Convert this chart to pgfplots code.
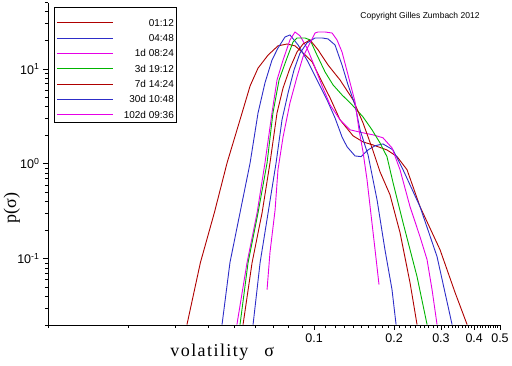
\documentclass[border=0pt]{standalone}
\usepackage{fontspec}
\setmainfont{Liberation Sans}
\newfontfamily\seriffont{Liberation Serif}
\newfontfamily\labfont[LetterSpace=8]{Liberation Serif}
\usepackage{pgfplots}
\pgfplotsset{compat=1.18}
\definecolor{cred}{RGB}{175,0,0}
\definecolor{cblue}{RGB}{45,45,200}
\definecolor{cmag}{RGB}{230,0,230}
\definecolor{cgreen}{RGB}{0,180,0}
\begin{document}
\begin{tikzpicture}
\useasboundingbox (-48pt,-41pt) rectangle (464pt,325pt);
\begin{axis}[
  at={(0pt,0pt)}, anchor=south west,
  scale only axis, width=452pt, height=322.4pt,
  xmode=log, ymode=log,
  xmin=0.01, xmax=0.5, ymin=0.02, ymax=50,
  axis lines*=left, axis line style={-, line width=0.8pt},
  xtick={0.1,0.2,0.3,0.4,0.5},
  xticklabels={0.1,0.2,0.3,0.4,0.5},
  minor xtick={0.01,0.02,0.03,0.04,0.05,0.06,0.07,0.08,0.09,
    0.11,0.12,0.13,0.14,0.15,0.16,0.17,0.18,0.19,
    0.21,0.22,0.23,0.24,0.25,0.26,0.27,0.28,0.29,
    0.31,0.32,0.33,0.34,0.35,0.36,0.37,0.38,0.39,
    0.41,0.42,0.43,0.44,0.45,0.46,0.47,0.48,0.49},
  ytick={0.1,1,10},
  yticklabels={10\textsuperscript{-1},10\textsuperscript{0},10\textsuperscript{1}},
  minor ytick={0.02,0.03,0.04,0.05,0.06,0.07,0.08,0.09,
    0.2,0.3,0.4,0.5,0.6,0.7,0.8,0.9,2,3,4,5,6,7,8,9,20,30,40,50},
  tick align=outside, major tick length=5pt, minor tick length=3pt,
  tick style={black, line width=0.6pt},
  ticklabel style={font=\fontsize{12.5}{13}\selectfont},
  xlabel={\labfont volatility\hspace{16pt}σ},
  xlabel style={at={(axis description cs:0.263,-0.083)}, anchor=west, font=\fontsize{18}{20}\selectfont},
  ylabel={\seriffont p(σ)},
  ylabel style={at={(axis description cs:-0.080,0.362)}, anchor=center, font=\fontsize{18}{20}\selectfont},
  legend style={at={(axis description cs:0.0133,0.985)}, anchor=north west,
    draw=black, line width=0.8pt, fill=white,
    font=\fontsize{10}{12}\selectfont,
    inner xsep=2.5pt, inner ysep=2.5pt, row sep=-2.67pt, column sep=10pt,
    nodes={inner sep=0pt, text height=16pt, text depth=2pt}},
  legend cell align=right,
  legend image code/.code={\draw[#1, line width=0.9pt] (0pt,-3.5pt) -- (56pt,-3.5pt);},
  every axis plot/.append style={line width=0.9pt},
]
\addplot[cred] coordinates {(0.0333,0.0202) (0.0374,0.0908) (0.0422,0.305) (0.0471,1.02) (0.0527,2.91) (0.0575,6.62) (0.0616,10.2) (0.0672,14.0) (0.0732,17.5) (0.0792,18.3) (0.0848,17.5) (0.0901,15.1) (0.0983,11.9) (0.1053,8.04) (0.1149,4.95) (0.1252,2.91) (0.1402,1.97) (0.1528,1.70) (0.1666,1.58) (0.1880,1.40) (0.2051,1.19) (0.2237,0.865) (0.2503,0.353) (0.2977,0.124) (0.3390,0.0439) (0.3761,0.0202)};
\addlegendentry{01:12}
\addplot[cblue] coordinates {(0.0451,0.0202) (0.0483,0.0908) (0.0527,0.305) (0.0575,1.02) (0.0616,3.44) (0.0654,7.12) (0.0695,12.4) (0.0732,16.6) (0.0778,21.7) (0.0812,22.8) (0.0871,17.9) (0.0949,11.9) (0.1035,7.30) (0.1119,4.72) (0.1199,3.05) (0.1274,1.92) (0.1331,1.51) (0.1426,1.21) (0.1502,1.19) (0.1596,1.40) (0.1696,1.55) (0.1816,1.62) (0.1982,1.40) (0.2161,0.865) (0.2503,0.353) (0.2900,0.105) (0.3303,0.0202)};
\addlegendentry{04:48}
\addplot[cmag] coordinates {(0.0513,0.0202) (0.0560,0.0908) (0.0611,0.305) (0.0654,1.02) (0.0695,3.44) (0.0726,7.66) (0.0765,12.4) (0.0812,20.2) (0.0848,24.5) (0.0886,22.3) (0.0941,16.6) (0.1000,11.0) (0.1072,6.62) (0.1149,4.18) (0.1252,2.91) (0.1366,2.28) (0.1528,2.12) (0.1666,2.02) (0.1816,1.88) (0.1964,1.47) (0.2105,0.865) (0.2295,0.353) (0.2503,0.170) (0.2660,0.0976) (0.2777,0.0472) (0.2900,0.0202)};
\addlegendentry{1d 08:24}
\addplot[cgreen] coordinates {(0.0527,0.0202) (0.0565,0.0908) (0.0616,0.305) (0.0666,1.02) (0.0701,3.44) (0.0739,7.66) (0.0792,13.1) (0.0834,19.2) (0.0863,21.2) (0.0925,21.2) (0.0966,20.2) (0.1026,14.0) (0.1100,9.30) (0.1179,6.78) (0.1274,5.32) (0.1390,4.18) (0.1528,3.12) (0.1652,2.28) (0.1770,1.66) (0.1880,1.19) (0.1982,0.631) (0.2161,0.239) (0.2439,0.0646) (0.2660,0.0202)};
\addlegendentry{3d 19:12}
\addplot[cred] coordinates {(0.0541,0.0202) (0.0585,0.0908) (0.0638,0.305) (0.0683,1.02) (0.0726,3.44) (0.0765,6.31) (0.0812,10.2) (0.0863,15.1) (0.0909,18.3) (0.0966,20.2) (0.1035,15.9) (0.1129,11.0) (0.1252,7.66) (0.1402,4.72) (0.1528,2.70) (0.1652,1.47) (0.1770,0.824) (0.1930,0.472) (0.2105,0.188) (0.2295,0.0559) (0.2439,0.0202)};
\addlegendentry{7d 14:24}
\addplot[cblue] coordinates {(0.0590,0.0202) (0.0627,0.0908) (0.0672,0.305) (0.0720,1.02) (0.0758,2.91) (0.0799,5.59) (0.0841,9.76) (0.0886,14.7) (0.0941,18.8) (0.1009,21.2) (0.1072,21.2) (0.1129,20.7) (0.1199,17.9) (0.1274,11.0) (0.1342,6.78) (0.1426,4.18) (0.1489,2.28) (0.1596,1.24) (0.1725,0.418) (0.1848,0.124) (0.1964,0.0472) (0.2034,0.0202)};
\addlegendentry{30d 10:48}
\addplot[cmag] coordinates {(0.0666,0.0472) (0.0683,0.116) (0.0714,0.328) (0.0732,0.865) (0.0765,1.92) (0.0812,4.39) (0.0863,8.24) (0.0909,13.4) (0.0966,18.8) (0.1009,23.9) (0.1035,24.5) (0.1100,24.5) (0.1169,23.9) (0.1220,20.2) (0.1274,15.1) (0.1342,8.65) (0.1426,4.50) (0.1476,2.28) (0.1528,1.34) (0.1582,0.679) (0.1638,0.290) (0.1696,0.124) (0.1755,0.0532)};
\addlegendentry{102d 09:36}
\node[font=\fontsize{8.5}{9}\selectfont, anchor=center] at (axis description cs:0.823,0.957) {Copyright Gilles Zumbach 2012};
\end{axis}
\end{tikzpicture}
\end{document}
